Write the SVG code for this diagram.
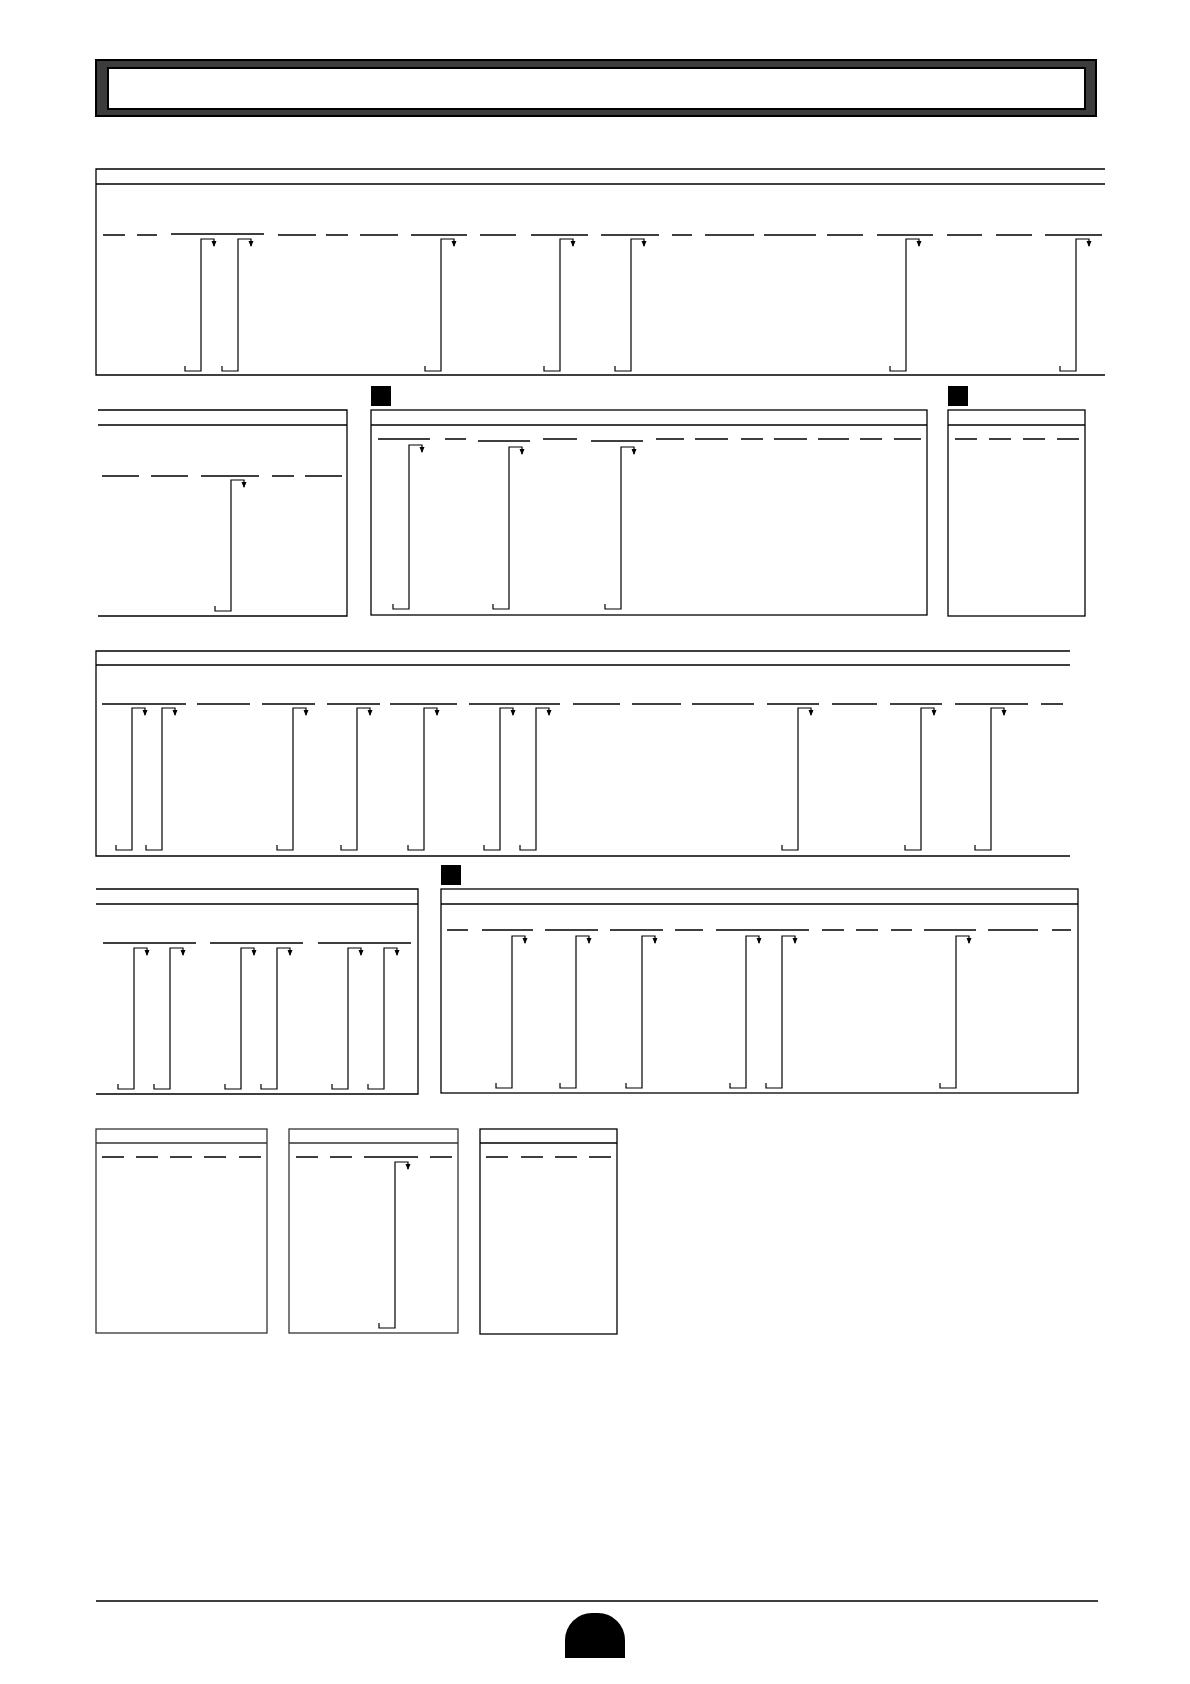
<svg xmlns="http://www.w3.org/2000/svg" width="1190" height="1684" viewBox="0 0 1190 1684">
<style>
.bx{fill:none;stroke:#000;stroke-width:1.3}
.gb{fill:none;stroke:#333;stroke-width:1.3}
.ds{fill:none;stroke:#000;stroke-width:1.3}
.cn{fill:none;stroke:#000;stroke-width:1.2;marker-end:url(#arr)}
.sq{fill:#000}
</style>
<defs>
<marker id="arr" viewBox="0 0 6 6" refX="5" refY="3" markerWidth="6" markerHeight="6" markerUnits="userSpaceOnUse" orient="auto">
<path d="M0,0.5 L6,3 L0,5.5 z" fill="#000"/>
</marker>
</defs>
<rect width="1190" height="1684" fill="#fff"/>
<g id="title">
<rect x="96" y="60" width="1000" height="56" fill="#3c3c3c" stroke="#000" stroke-width="2"/>
<rect x="108" y="68" width="977" height="41" fill="#fff" stroke="#000" stroke-width="2"/>
</g>
<g id="section1">
<path class="bx" d="M1105,169 H96 V375 H1105 M96,184 H1105"/>
<path class="ds" d="M103,235H125M137,235H157M171,234H264M278,235H316M326,235H348M360,235H398M411,235H467M480,235H516M531,235H588M601,235H659M672,235H692M705,235H754M764,235H816M827,235H863M877,235H933M947,235H982M996,235H1032M1045,235H1102"/>
</g>
<g id="boxA">
<path class="bx" d="M98,410 H347 V616 H98 M98,425 H347"/>
<path class="ds" d="M102,476H139M151,476H188M201,476H259M272,476H294M305,476H342"/>
</g>
<g id="boxB">
<rect class="sq" x="371" y="386" width="20" height="20"/>
<rect class="bx" x="371" y="410" width="556" height="205"/>
<path class="bx" d="M371,425 H927"/>
<path class="ds" d="M378,439H430M445,439H466M478,441H530M543,439H577M591,441H643M656,439H684M695,439H728M741,439H763M774,439H807M818,439H849M860,439H882M894,439H921"/>
</g>
<g id="boxC">
<rect class="sq" x="948" y="386" width="20" height="20"/>
<rect class="bx" x="948" y="410" width="137" height="206"/>
<path class="bx" d="M948,425 H1085"/>
<path class="ds" d="M955,439H977M989,439H1011M1023,439H1045M1057,439H1079"/>
</g>
<g id="section3">
<path class="bx" d="M1070,651 H96 V856 H1070 M96,665 H1070"/>
<path class="ds" d="M102,704H186M197,704H250M262,704H315M327,704H380M390,704H457M469,704H560M573,704H620M632,704H681M692,704H754M767,704H819M832,704H877M890,704H942M955,704H1028M1041,704H1063"/>
</g>
<g id="boxD">
<path class="bx" d="M96,889 H418 V1094 H96 M96,904 H418"/>
<path class="ds" d="M103,943H196M210,943H303M318,943H411"/>
</g>
<g id="boxE">
<rect class="sq" x="441" y="865" width="20" height="20"/>
<rect class="bx" x="441" y="889" width="637" height="204"/>
<path class="bx" d="M441,904 H1078"/>
<path class="ds" d="M447,930H468M482,930H533M545,930H598M610,930H663M675,930H703M716,930H809M822,930H844M856,930H878M891,930H912M924,930H976M988,930H1038M1052,930H1071"/>
</g>
<g id="boxG">
<rect class="gb" x="96" y="1129" width="171" height="204"/>
<path class="gb" d="M96,1143 H267"/>
<path class="ds" d="M102,1157H124M136,1157H158M170,1157H192M204,1157H226M239,1157H261"/>
</g>
<g id="boxH">
<rect class="gb" x="289" y="1129" width="169" height="204"/>
<path class="gb" d="M289,1143 H458"/>
<path class="ds" d="M296,1157H318M330,1157H352M364,1157H418M430,1157H452"/>
</g>
<g id="boxI">
<rect class="bx" x="480" y="1129" width="137" height="205"/>
<path class="bx" d="M480,1143 H617"/>
<path class="ds" d="M486,1157H508M521,1157H543M555,1157H577M589,1157H611"/>
</g>
<g id="connectors">
<path class="cn" d="M185,366V371H201V239H214V246"/>
<path class="cn" d="M222,366V371H238V239H251V246"/>
<path class="cn" d="M425,366V371H441V239H454V246"/>
<path class="cn" d="M544,366V371H560V239H573V246"/>
<path class="cn" d="M615,366V371H631V239H644V246"/>
<path class="cn" d="M890,366V371H906V239H919V246"/>
<path class="cn" d="M1060,366V371H1076V239H1089V246"/>
<path class="cn" d="M215,606V611H231V480H244V487"/>
<path class="cn" d="M393,604V609H409V445H422V452"/>
<path class="cn" d="M493,604V609H509V447H522V454"/>
<path class="cn" d="M605,604V609H621V447H634V454"/>
<path class="cn" d="M116,845V850H132V708H145V715"/>
<path class="cn" d="M146,845V850H162V708H175V715"/>
<path class="cn" d="M277,845V850H293V708H306V715"/>
<path class="cn" d="M341,845V850H357V708H370V715"/>
<path class="cn" d="M408,845V850H424V708H437V715"/>
<path class="cn" d="M484,845V850H500V708H513V715"/>
<path class="cn" d="M520,845V850H536V708H549V715"/>
<path class="cn" d="M782,845V850H798V708H811V715"/>
<path class="cn" d="M905,845V850H921V708H934V715"/>
<path class="cn" d="M975,845V850H991V708H1004V715"/>
<path class="cn" d="M118,1084V1089H134V948H147V955"/>
<path class="cn" d="M154,1084V1089H170V948H183V955"/>
<path class="cn" d="M225,1084V1089H241V948H254V955"/>
<path class="cn" d="M261,1084V1089H277V948H290V955"/>
<path class="cn" d="M332,1084V1089H348V948H361V955"/>
<path class="cn" d="M368,1084V1089H384V948H397V955"/>
<path class="cn" d="M496,1083V1088H512V936H525V943"/>
<path class="cn" d="M560,1083V1088H576V936H589V943"/>
<path class="cn" d="M626,1083V1088H642V936H655V943"/>
<path class="cn" d="M730,1083V1088H746V936H759V943"/>
<path class="cn" d="M766,1083V1088H782V936H795V943"/>
<path class="cn" d="M940,1083V1088H956V936H969V943"/>
<path class="cn" d="M379,1323V1328H395V1162H408V1169"/>
</g>
<g id="footer">
<path class="bx" d="M96,1601 H1098"/>
<path d="M565,1658 V1640 A27,27 0 0 1 592,1613 H598 A27,27 0 0 1 625,1640 V1658 Z" fill="#000"/>
</g>
</svg>
